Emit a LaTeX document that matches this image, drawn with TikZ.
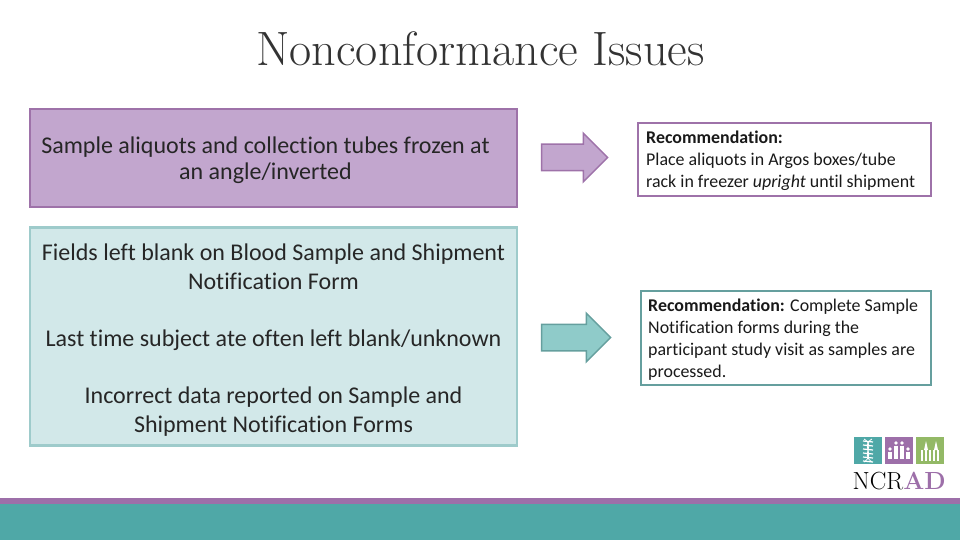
\documentclass[tikz,border=0pt]{standalone}
\usepackage{fontspec}
\newfontfamily\bodyfont[Ligatures=NoCommon]{Carlito}
\usetikzlibrary{shapes.arrows}
\definecolor{barpurple}{HTML}{9D6FA9}
\definecolor{barteal}{HTML}{4FA8A7}
\definecolor{boxpurple}{HTML}{C2A6CE}
\definecolor{edgepurple}{HTML}{9E72A9}
\definecolor{boxteal}{HTML}{D2E8E9}
\definecolor{edgeteal}{HTML}{9ECBCB}
\definecolor{arrowteal}{HTML}{8FCBC9}
\definecolor{edgedark}{HTML}{659F9E}
\definecolor{logogreen}{HTML}{93B966}
\tikzset{
   issue/.style={draw,line width=2.5pt,minimum width=487pt,inner sep=0pt},
   issuetext/.style={inner sep=0pt,align=center,text=black!85},
   advice/.style={draw,line width=2pt,inner sep=0pt,anchor=north west},
   advicetext/.style={anchor=west,align=left,inner sep=0pt,text=black!90,font=\bodyfont\fontsize{17.9}{22}\selectfont},
   pointer/.style={single arrow,draw,line width=1.5pt,inner sep=0pt,minimum width=0pt,single arrow head extend=11pt,single arrow tip angle=90}
}
\begin{document}
\begin{tikzpicture}[x=1pt,y=-1pt]
   \useasboundingbox (0,0) rectangle (960,540);
   \fill[barteal] (0,504) rectangle (960,540);
   \fill[barpurple] (0,498) rectangle (960,504);
   \node[text=black!80,font=\fontsize{48.2}{50}\selectfont] (title) at (480.5,49) {Nonconformance Issues};
   \node[issue,fill=boxpurple,draw=edgepurple,minimum height=98pt] (frozen) at (273.5,158) {};
   \node[issuetext,font=\bodyfont\fontsize{24}{26}\selectfont] (frozentext) at (265.5,160) {Sample aliquots and collection tubes frozen at\\an angle/inverted};
   \node[issue,fill=boxteal,draw=edgeteal,minimum height=218pt] (blank) at (273.5,336.5) {};
   \node[issuetext,font=\bodyfont\fontsize{24}{28.67}\selectfont] (blanktext) at (273.5,340) {Fields left blank on Blood Sample and Shipment\\Notification Form\\[28.67pt]Last time subject ate often left blank/unknown\\[28.67pt]Incorrect data reported on Sample and\\Shipment Notification Forms};
   \node[advice,draw=edgepurple,minimum width=292.5pt,minimum height=72.5pt] (upright) at (637,122.5) {};
   \node[advicetext] (uprighttext) at (646,161) {\textbf{Recommendation:}\\Place aliquots in Argos boxes/tube\\rack in freezer \textit{upright} until shipment};
   \node[advice,draw=edgedark,minimum width=290pt,minimum height=94pt] (complete) at (639.5,290) {};
   \node[advicetext] (completetext) at (648,339.5) {\textbf{Recommendation:} Complete Sample\\Notification forms during the\\participant study visit as samples are\\processed.};
   \node[pointer,fill=boxpurple,draw=edgepurple,minimum height=66pt] (arrowone) at (568,157.5) {\rule{0pt}{25pt}};
   \node[pointer,fill=arrowteal,draw=edgedark,minimum height=69pt] (arrowtwo) at (569.5,337.5) {\rule{0pt}{25pt}};
   % logo
   \fill[barteal] (854,437) rectangle (882,464);
   \fill[barpurple] (885,437) rectangle (913,464);
   \fill[logogreen] (916,437) rectangle (944,464);
   \foreach \y in {441,445,...,461}
      \draw[white,line width=1.2pt] (863,\y) -- (873,\y+1);
   \draw[white,line width=.8pt] (864,439) .. controls (876,446) and (860,454) .. (872,462);
   \draw[white,line width=.8pt] (872,439) .. controls (860,446) and (876,454) .. (864,462);
   \foreach \x/\h/\b in {890/3/459,896/0/459,902/0/459,908/3/459}{
      \fill[white] (\x,\b-16+\h*2) circle (1.8pt);
      \fill[white] (\x-1.6,\b-13+\h*2) rectangle (\x+1.6,\b);
   }
   \foreach \x in {922,926,930,934,938}
      \fill[white] (\x-1.2,450) rectangle (\x+1.2,461);
   \fill[white] (924,450) -- (926,441) -- (928,450) -- cycle;
   \fill[white] (934,450) -- (936,441) -- (938,450) -- cycle;
   \node[anchor=base west,inner sep=0pt,font=\fontsize{24.8}{28}\selectfont] (logotext) at (852.5,489) {NCR\textcolor{barpurple}{\textbf{AD}}};
\end{tikzpicture}
\end{document}
